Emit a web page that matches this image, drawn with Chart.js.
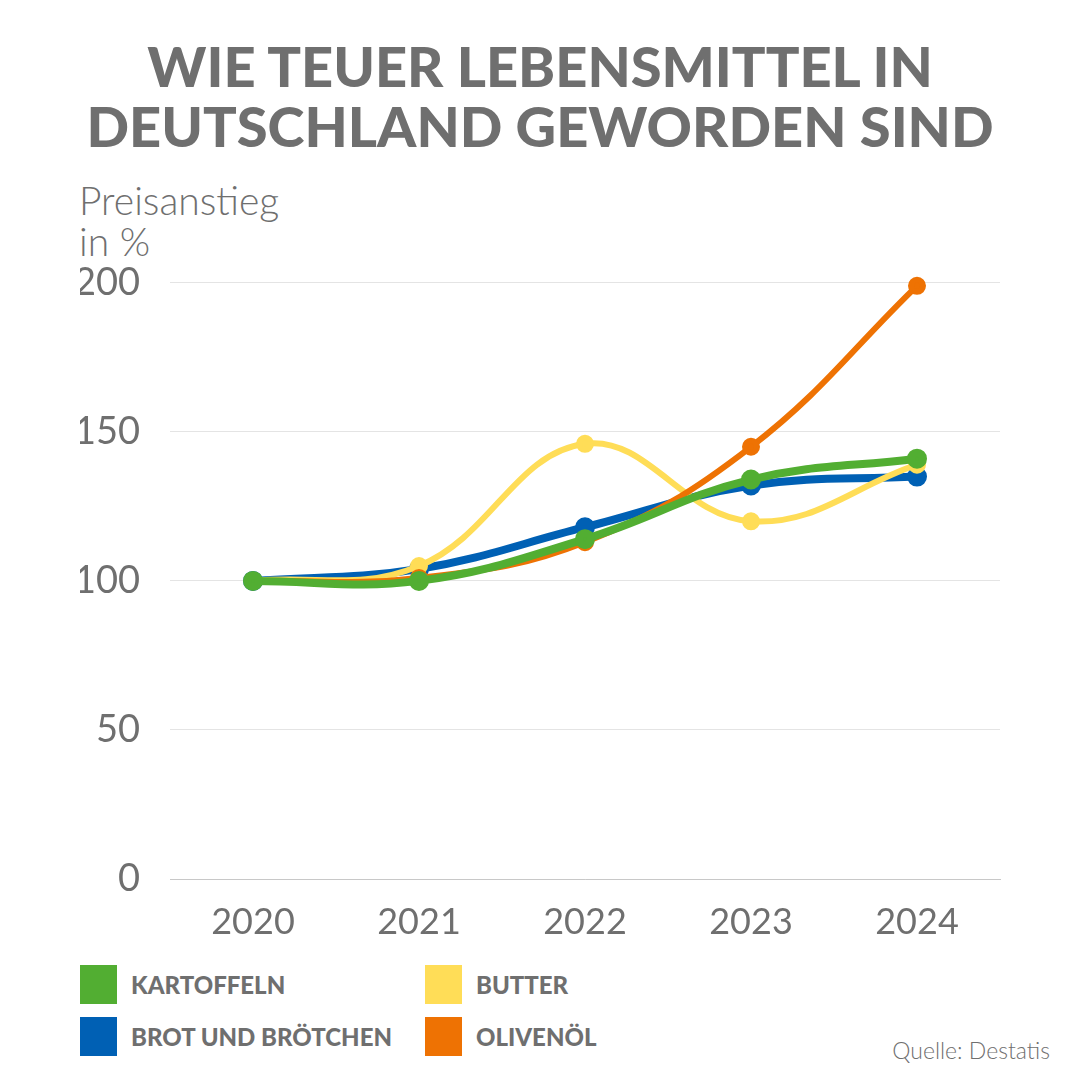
<!DOCTYPE html>
<html lang="de">
<head>
  <meta charset="UTF-8" />
  <title>Wie teuer Lebensmittel in Deutschland geworden sind</title>
  <style>
    body {
      margin: 0;
      width: 1080px;
      height: 1080px;
      background: #fff;
      font-family: 'Lato', sans-serif;
      color: #6f6f6f;
      position: relative;
      overflow: hidden;
    }
    h1 {
      position: absolute;
      top: 36px;
      left: 0;
      width: 1080px;
      margin: 0;
      text-align: center;
      font-size: 56px;
      font-weight: 900;
      line-height: 60px;
      color: #6f6f6f;
    }
    .ylabel {
      position: absolute;
      left: 79px;
      top: 180px;
      font-size: 39px;
      line-height: 41px;
      font-weight: 300;
    }
    .chart-box {
      position: absolute;
      left: 0;
      top: 230px;
      width: 1080px;
      height: 710px;
    }
    .legend-item {
      position: absolute;
      display: flex;
      align-items: center;
      font-size: 24px;
      font-weight: 900;
    }
    .legend-item span.sw {
      display: inline-block;
      width: 37px;
      height: 39px;
      margin-right: 14px;
    }
    .source {
      position: absolute;
      right: 30px;
      top: 1036px;
      font-size: 23px;
      font-weight: 300;
    }
  </style>
</head>
<body>
  <h1>WIE TEUER LEBENSMITTEL IN<br>DEUTSCHLAND GEWORDEN SIND</h1>
  <div class="ylabel">Preisanstieg<br>in %</div>
  <div class="chart-box"><canvas id="chart"></canvas></div>

  <div class="legend-item" style="left:80px; top:965px;"><span class="sw" style="background:#52ae32"></span>KARTOFFELN</div>
  <div class="legend-item" style="left:80px; top:1017px;"><span class="sw" style="background:#0060b4"></span>BROT UND BRÖTCHEN</div>
  <div class="legend-item" style="left:425px; top:965px;"><span class="sw" style="background:#ffdd57"></span>BUTTER</div>
  <div class="legend-item" style="left:425px; top:1017px;"><span class="sw" style="background:#ee7203"></span>OLIVENÖL</div>
  <div class="source">Quelle: Destatis</div>

  <script src="https://cdn.jsdelivr.net/npm/chart.js"></script>
  <script>
    const years = ['2020', '2021', '2022', '2023', '2024'];
    const kartoffeln = [100, 100, 114, 134, 141];
    const brot = [100, 104, 118, 132, 135];
    const butter = [100, 105, 146, 120, 139];
    const olivenoel = [100, 101, 113, 145, 199];
    const yTicks = [0, 50, 100, 150, 200];

    const grey = '#6f6f6f';

    function line(label, data, color, width, radius) {
      return {
        label: label,
        data: data,
        borderColor: color,
        backgroundColor: color,
        borderWidth: width,
        pointRadius: radius,
        pointHoverRadius: radius,
        tension: 0.4,
        fill: false,
        clip: false
      };
    }

    new Chart(document.getElementById('chart'), {
      type: 'line',
      data: {
        labels: years,
        // first dataset is drawn on top
        datasets: [
          line('Kartoffeln', kartoffeln, '#52ae32', 8, 6),
          line('Olivenöl', olivenoel, '#ee7203', 6, 6),
          line('Butter', butter, '#ffdd57', 6, 6),
          line('Brot und Brötchen', brot, '#0060b4', 8, 6)
        ]
      },
      options: {
        responsive: true,
        maintainAspectRatio: false,
        animation: false,
        layout: { padding: { left: 80, right: 80, top: 0, bottom: 0 } },
        plugins: {
          legend: { display: false },
          tooltip: { enabled: false }
        },
        scales: {
          x: {
            offset: true,
            grid: { display: false },
            border: { display: true, color: '#c8c8c8', width: 1 },
            ticks: {
              color: grey,
              padding: 14,
              font: { family: 'Lato', size: 36, weight: '400' }
            },
            afterFit: s => { s.height = 61; }
          },
          y: {
            min: 0,
            max: 200,
            afterBuildTicks: s => { s.ticks = yTicks.map(v => ({ value: v })); },
            grid: { color: '#e4e4e4', drawTicks: false },
            border: { display: false },
            ticks: {
              color: grey,
              padding: 30,
              font: { family: 'Lato', size: 38, weight: '400' }
            },
            afterFit: s => { s.width = 90; }
          }
        }
      }
    });
  </script>
</body>
</html>
